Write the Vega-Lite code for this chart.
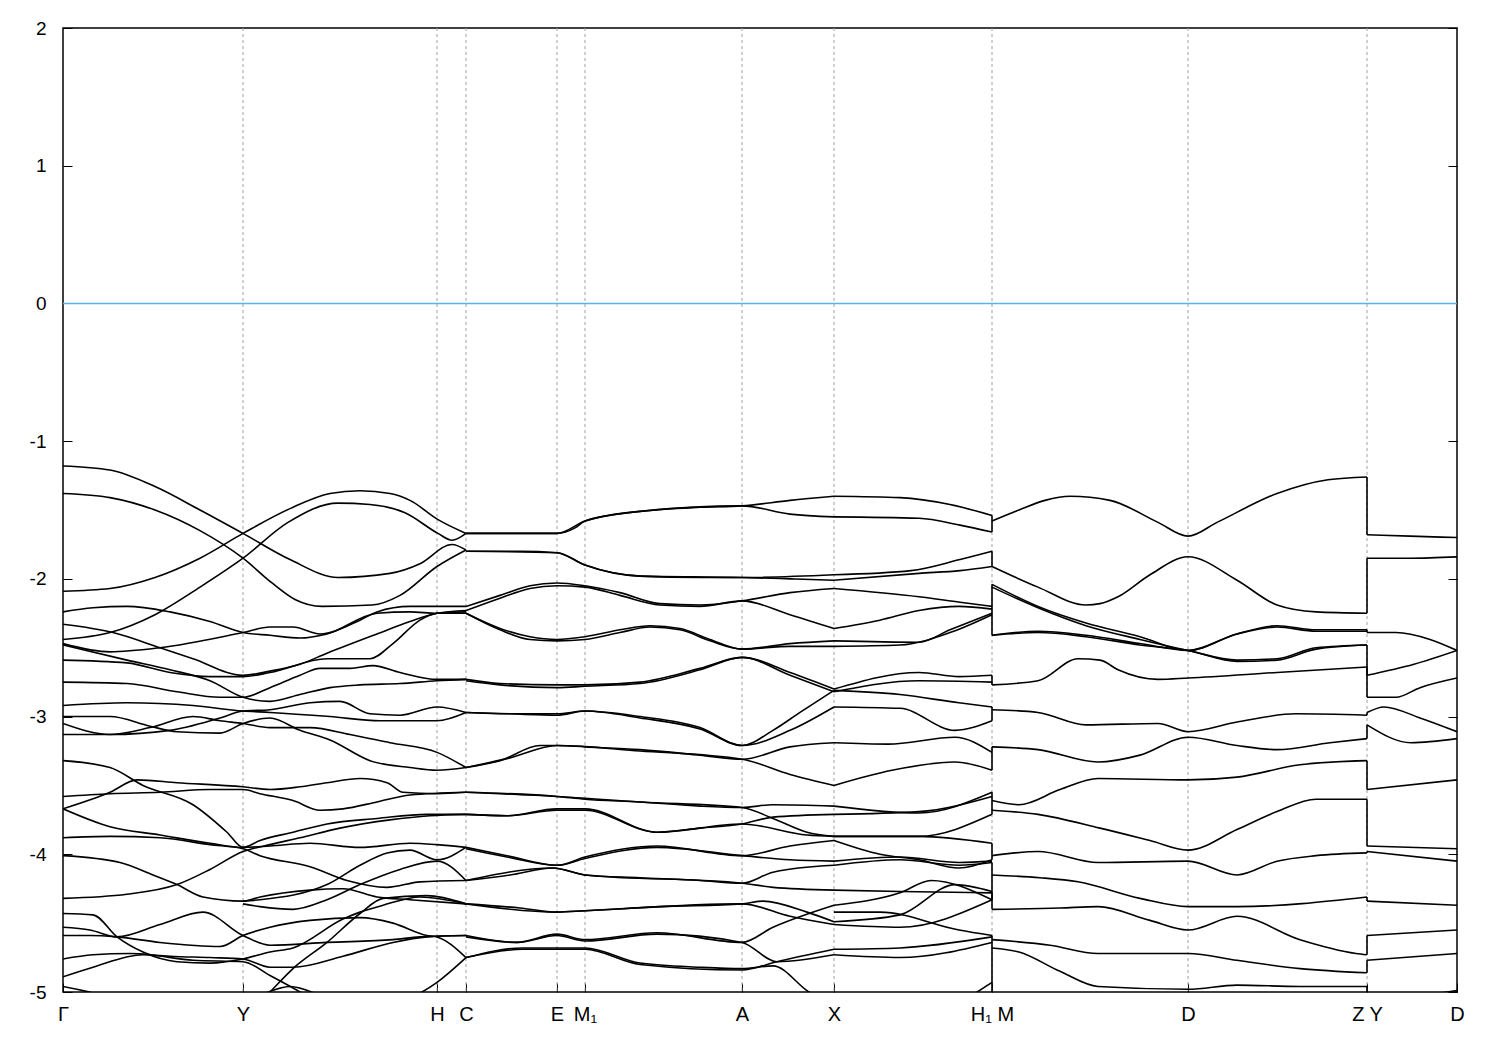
{
"$schema": "https://vega.github.io/schema/vega-lite/v6.json",
"width": 1394, "height": 964,
"autosize": {"type": "none"},
"padding": {"left": 63, "top": 28, "right": 43, "bottom": 58},
"config": {"font": "Liberation Sans", "view": {"stroke": "#000000", "strokeWidth": 1.5}, "axis": {"domain": false}},
"datasets": {
"grid": [{"k":180},{"k":374},{"k":403},{"k":494},{"k":522},{"k":679},{"k":771},{"k":929},{"k":1125},{"k":1304}],
"bands": [
{"id":"V01","k":[929,929],"e":[-1.54,-1.66]},
{"id":"V02","k":[929,929],"e":[-1.80,-1.91]},
{"id":"V03","k":[929,929],"e":[-2.04,-2.41]},
{"id":"V04","k":[929,929],"e":[-2.70,-2.77]},
{"id":"V05","k":[929,929],"e":[-2.93,-3.03]},
{"id":"V06","k":[929,929],"e":[-3.22,-3.39]},
{"id":"V07","k":[929,929],"e":[-3.55,-3.71]},
{"id":"V08","k":[929,929],"e":[-3.92,-4.04]},
{"id":"V09","k":[929,929],"e":[-4.06,-4.33]},
{"id":"V10","k":[929,929],"e":[-4.28,-4.40]},
{"id":"V11","k":[929,929],"e":[-4.59,-5.06]},
{"id":"W01","k":[1304,1304],"e":[-1.26,-1.68]},
{"id":"W02","k":[1304,1304],"e":[-2.25,-1.85]},
{"id":"W03","k":[1304,1304],"e":[-2.37,-2.39]},
{"id":"W04","k":[1304,1304],"e":[-2.48,-2.70]},
{"id":"W05","k":[1304,1304],"e":[-2.64,-2.86]},
{"id":"W06","k":[1304,1304],"e":[-2.99,-2.97]},
{"id":"W07","k":[1304,1304],"e":[-3.16,-3.06]},
{"id":"W08","k":[1304,1304],"e":[-3.32,-3.53]},
{"id":"W09","k":[1304,1304],"e":[-3.60,-3.94]},
{"id":"W10","k":[1304,1304],"e":[-3.99,-3.98]},
{"id":"W11","k":[1304,1304],"e":[-4.31,-4.34]},
{"id":"W12","k":[1304,1304],"e":[-4.73,-4.59]},
{"id":"W13","k":[1304,1304],"e":[-4.86,-4.77]},
{"id":"W14","k":[1304,1304],"e":[-4.96,-5.05]},
{"id":"A01","k":[0,47,92,137,180,227,275,327,357,389,403],"e":[-1.18,-1.21,-1.33,-1.50,-1.67,-1.86,-1.99,-1.96,-1.89,-1.75,-1.79]},
{"id":"A02","k":[0,47,92,137,180,209,232,259,309,337,374,403],"e":[-1.38,-1.41,-1.50,-1.65,-1.85,-2.03,-2.15,-2.20,-2.19,-2.12,-1.91,-1.79]},
{"id":"A03","k":[0,47,92,137,180,227,267,297,327,347,375,403],"e":[-2.09,-2.07,-1.99,-1.85,-1.67,-1.49,-1.38,-1.36,-1.38,-1.43,-1.57,-1.67]},
{"id":"A04","k":[0,47,92,137,180,225,275,307,342,375,389,403],"e":[-2.44,-2.39,-2.26,-2.06,-1.85,-1.59,-1.45,-1.46,-1.52,-1.67,-1.72,-1.67]},
{"id":"A05","k":[0,30,64,107,147,180,207,237,264,314,347,374,403],"e":[-2.24,-2.21,-2.20,-2.24,-2.31,-2.39,-2.41,-2.43,-2.40,-2.25,-2.24,-2.25,-2.25]},
{"id":"A06","k":[0,47,97,180,207,230,257,297,314,347,374,403],"e":[-2.47,-2.53,-2.50,-2.39,-2.35,-2.35,-2.40,-2.30,-2.24,-2.20,-2.20,-2.20]},
{"id":"A07","k":[0,50,97,130,180,207,237,264,314,347,374,403],"e":[-2.33,-2.39,-2.50,-2.58,-2.70,-2.67,-2.62,-2.54,-2.40,-2.31,-2.25,-2.23]},
{"id":"A08","k":[0,64,107,147,180,207,264,307,330,357,374,403],"e":[-2.59,-2.61,-2.68,-2.71,-2.71,-2.68,-2.58,-2.58,-2.47,-2.30,-2.25,-2.24]},
{"id":"A09","k":[0,64,107,147,180,207,237,267,297,337,374,403],"e":[-2.48,-2.59,-2.66,-2.74,-2.86,-2.89,-2.84,-2.79,-2.77,-2.76,-2.74,-2.73]},
{"id":"A10","k":[0,64,114,157,180,207,237,257,287,310,337,374,403],"e":[-2.75,-2.76,-2.82,-2.86,-2.86,-2.79,-2.70,-2.65,-2.65,-2.63,-2.68,-2.73,-2.73]},
{"id":"A11","k":[0,64,130,180,207,267,317,374,403],"e":[-2.92,-2.90,-2.92,-2.96,-2.97,-3.00,-3.03,-3.03,-2.97]},
{"id":"A12","k":[0,47,87,114,157,180,207,237,267,307,347,374,403],"e":[-3.00,-3.00,-3.07,-3.11,-3.12,-3.05,-3.01,-3.10,-3.17,-3.32,-3.37,-3.39,-3.37]},
{"id":"A13","k":[0,47,107,157,180,207,247,277,307,337,374,403],"e":[-3.05,-3.13,-3.10,-3.01,-2.96,-2.95,-2.90,-2.89,-2.98,-2.99,-2.93,-2.97]},
{"id":"A14","k":[0,47,87,130,157,180,207,247,287,327,374,403],"e":[-3.13,-3.13,-3.08,-3.00,-3.03,-3.05,-3.08,-3.08,-3.13,-3.19,-3.26,-3.37]},
{"id":"A15","k":[0,47,80,130,164,180,207,247,297,347,374,403],"e":[-3.32,-3.37,-3.50,-3.64,-3.84,-3.95,-3.94,-3.92,-3.95,-3.92,-3.93,-3.95]},
{"id":"A16","k":[0,47,74,114,180,207,237,264,297,324,340,374,403],"e":[-3.67,-3.55,-3.46,-3.48,-3.51,-3.53,-3.51,-3.48,-3.45,-3.48,-3.55,-3.56,-3.55]},
{"id":"A17","k":[0,47,97,147,180,197,230,257,280,314,347,403],"e":[-3.58,-3.56,-3.55,-3.53,-3.53,-3.56,-3.61,-3.68,-3.67,-3.62,-3.57,-3.55]},
{"id":"A18","k":[0,47,97,147,180,197,230,264,314,364,403],"e":[-3.67,-3.80,-3.86,-3.92,-3.95,-3.90,-3.84,-3.78,-3.74,-3.71,-3.71]},
{"id":"A19","k":[0,47,97,147,180,197,247,284,324,357,403],"e":[-3.88,-3.87,-3.88,-3.93,-3.96,-4.01,-4.09,-4.19,-4.24,-4.20,-4.19]},
{"id":"A20","k":[0,57,90,114,140,180,197,247,280,314,347,403],"e":[-4.01,-4.06,-4.15,-4.22,-4.31,-4.34,-4.31,-4.26,-4.25,-4.31,-4.33,-4.36]},
{"id":"A21","k":[0,64,114,147,180,207,237,277,327,367,403],"e":[-4.32,-4.29,-4.22,-4.11,-3.98,-3.93,-3.88,-3.81,-3.75,-3.72,-3.71]},
{"id":"A22","k":[0,30,54,80,114,147,180,207,230,280,297,320,357,403],"e":[-4.43,-4.44,-4.60,-4.71,-4.78,-4.79,-4.76,-4.71,-4.68,-4.47,-4.42,-4.37,-4.31,-4.36]},
{"id":"A23","k":[0,27,54,97,140,180,207,264,330,357,403],"e":[-4.53,-4.55,-4.60,-4.51,-4.42,-4.59,-4.66,-4.64,-4.62,-4.60,-4.59]},
{"id":"A24","k":[0,27,54,97,157,180,207,247,297,330,364,374,403],"e":[-4.59,-4.59,-4.60,-4.64,-4.67,-4.59,-4.53,-4.48,-4.46,-4.50,-4.59,-4.60,-4.75]},
{"id":"A25","k":[0,30,67,107,147,180,207,230,280,330,364,403],"e":[-4.76,-4.73,-4.72,-4.74,-4.75,-4.76,-4.82,-4.82,-4.74,-4.64,-4.60,-4.59]},
{"id":"A26","k":[0,30,80,130,180,207,237,257],"e":[-4.89,-4.82,-4.73,-4.77,-4.78,-4.88,-5.00,-5.09]},
{"id":"A27","k":[0,37,67],"e":[-4.96,-5.02,-5.09]},
{"id":"A28","k":[180,197,264,297,324,347,374,403],"e":[-4.34,-4.33,-4.22,-4.08,-3.99,-3.97,-4.04,-3.95]},
{"id":"A29","k":[180,197,230,264,297,337,374,403],"e":[-4.36,-4.38,-4.40,-4.33,-4.22,-4.11,-4.05,-4.19]},
{"id":"A30","k":[199,207,230,264,297,320,364,403],"e":[-5.06,-5.00,-4.83,-4.64,-4.43,-4.32,-4.30,-4.36]},
{"id":"A31","k":[347,374,403],"e":[-5.05,-4.93,-4.75]},
{"id":"A32","k":[202,227,252],"e":[-5.01,-4.96,-5.01]},
{"id":"B01","k":[403,447,494,512,522,577,637,679,727,771],"e":[-1.67,-1.67,-1.67,-1.63,-1.58,-1.51,-1.48,-1.47,-1.43,-1.40]},
{"id":"B02","k":[403,494,522,577,679,727,771],"e":[-1.67,-1.67,-1.58,-1.51,-1.47,-1.53,-1.55]},
{"id":"B03","k":[403,457,494,522,577,637,679,771],"e":[-1.80,-1.80,-1.81,-1.90,-1.98,-1.99,-1.99,-1.97]},
{"id":"B04","k":[403,494,522,577,679,727,771],"e":[-1.80,-1.81,-1.90,-1.98,-1.99,-2.00,-2.01]},
{"id":"B05","k":[403,437,467,494,522,557,597,637,679,727,771],"e":[-2.20,-2.12,-2.05,-2.03,-2.05,-2.10,-2.18,-2.19,-2.16,-2.10,-2.07]},
{"id":"B06","k":[403,437,467,494,522,557,597,637,679,727,771],"e":[-2.23,-2.14,-2.07,-2.05,-2.06,-2.12,-2.19,-2.20,-2.16,-2.26,-2.36]},
{"id":"B07","k":[403,437,467,494,522,557,587,617,647,679,727,771],"e":[-2.25,-2.36,-2.42,-2.44,-2.42,-2.37,-2.34,-2.36,-2.44,-2.51,-2.47,-2.45]},
{"id":"B08","k":[403,437,467,494,522,557,587,617,647,679,727,771],"e":[-2.25,-2.37,-2.44,-2.45,-2.44,-2.39,-2.35,-2.37,-2.45,-2.51,-2.49,-2.49]},
{"id":"B09","k":[403,437,494,522,577,637,679,727,771],"e":[-2.73,-2.76,-2.77,-2.77,-2.75,-2.65,-2.57,-2.68,-2.80]},
{"id":"B10","k":[403,437,494,522,577,637,679,727,771],"e":[-2.74,-2.77,-2.79,-2.78,-2.76,-2.66,-2.57,-2.70,-2.82]},
{"id":"B11","k":[403,447,494,522,577,637,679,710,737,771],"e":[-2.97,-2.98,-2.99,-2.96,-3.00,-3.08,-3.21,-3.10,-2.97,-2.81]},
{"id":"B12","k":[403,447,494,522,577,637,679,727,771],"e":[-2.97,-2.98,-2.98,-2.96,-3.01,-3.09,-3.21,-3.10,-2.93]},
{"id":"B13","k":[403,437,477,494,522,577,637,679,727,771],"e":[-3.37,-3.32,-3.21,-3.21,-3.22,-3.24,-3.28,-3.31,-3.22,-3.19]},
{"id":"B14","k":[403,447,494,577,679,727,771],"e":[-3.37,-3.30,-3.21,-3.25,-3.31,-3.42,-3.50]},
{"id":"B15","k":[403,494,522,577,637,679,710,771],"e":[-3.55,-3.58,-3.60,-3.62,-3.65,-3.66,-3.64,-3.65]},
{"id":"B16","k":[403,494,577,679,710,744,771],"e":[-3.55,-3.58,-3.62,-3.66,-3.74,-3.84,-3.87]},
{"id":"B17","k":[403,444,494,522,594,637,679,710,771],"e":[-3.71,-3.72,-3.67,-3.67,-3.84,-3.81,-3.78,-3.73,-3.71]},
{"id":"B18","k":[403,444,494,522,594,679,744,771],"e":[-3.71,-3.72,-3.68,-3.68,-3.84,-3.78,-3.86,-3.87]},
{"id":"B19","k":[403,444,494,522,594,679,727,771],"e":[-3.95,-4.01,-4.08,-4.02,-3.94,-4.01,-3.94,-3.90]},
{"id":"B20","k":[403,444,494,522,594,679,727,771],"e":[-3.96,-4.02,-4.08,-4.03,-3.95,-4.01,-4.04,-4.05]},
{"id":"B21","k":[403,447,490,522,577,637,679,710,771],"e":[-4.19,-4.15,-4.10,-4.15,-4.17,-4.19,-4.21,-4.13,-4.08]},
{"id":"B22","k":[403,490,522,679,710,771],"e":[-4.19,-4.10,-4.15,-4.21,-4.24,-4.26]},
{"id":"B23","k":[403,457,494,522,597,679,700,744,771],"e":[-4.36,-4.39,-4.42,-4.41,-4.38,-4.36,-4.34,-4.42,-4.49]},
{"id":"B24","k":[403,494,522,679,727,771],"e":[-4.36,-4.42,-4.41,-4.36,-4.45,-4.51]},
{"id":"B25","k":[403,454,494,522,594,679,710,771],"e":[-4.60,-4.64,-4.58,-4.62,-4.57,-4.64,-4.53,-4.37]},
{"id":"B26","k":[403,454,494,522,594,679,714,771],"e":[-4.59,-4.64,-4.59,-4.63,-4.58,-4.64,-4.78,-4.73]},
{"id":"B27","k":[403,460,522,577,637,679,710,744,752],"e":[-4.75,-4.68,-4.68,-4.79,-4.82,-4.83,-4.81,-4.99,-5.03]},
{"id":"B28","k":[403,460,522,577,679,714,771],"e":[-4.75,-4.69,-4.69,-4.80,-4.84,-4.78,-4.69]},
{"id":"C01","k":[771,837,887,929],"e":[-1.40,-1.41,-1.46,-1.54]},
{"id":"C02","k":[771,856,897,929],"e":[-1.55,-1.56,-1.61,-1.66]},
{"id":"C03","k":[771,848,897,929],"e":[-1.97,-1.94,-1.86,-1.80]},
{"id":"C04","k":[771,856,897,929],"e":[-2.01,-1.96,-1.94,-1.91]},
{"id":"C05","k":[771,856,897,929],"e":[-2.07,-2.13,-2.17,-2.20]},
{"id":"C06","k":[771,817,856,896,929],"e":[-2.36,-2.30,-2.23,-2.20,-2.22]},
{"id":"C07","k":[771,856,887,929],"e":[-2.45,-2.46,-2.37,-2.25]},
{"id":"C08","k":[771,837,887,929],"e":[-2.49,-2.48,-2.39,-2.26]},
{"id":"C09","k":[771,856,896,929],"e":[-2.80,-2.68,-2.71,-2.70]},
{"id":"C10","k":[771,856,929],"e":[-2.82,-2.74,-2.75]},
{"id":"C11","k":[771,837,896,929],"e":[-2.81,-2.84,-2.90,-2.93]},
{"id":"C12","k":[771,837,892,929],"e":[-2.93,-2.94,-3.10,-3.03]},
{"id":"C13","k":[771,825,892,929],"e":[-3.19,-3.20,-3.15,-3.26]},
{"id":"C14","k":[771,829,892,929],"e":[-3.50,-3.39,-3.33,-3.39]},
{"id":"C15","k":[771,856,929],"e":[-3.65,-3.70,-3.55]},
{"id":"C16","k":[771,856,929],"e":[-3.71,-3.69,-3.58]},
{"id":"C17","k":[771,856,929],"e":[-3.87,-3.87,-3.92]},
{"id":"C18","k":[771,856,929],"e":[-3.87,-3.87,-3.71]},
{"id":"C19","k":[771,817,856,896,929],"e":[-3.90,-4.00,-4.04,-4.10,-4.04]},
{"id":"C20","k":[771,837,896,929],"e":[-4.05,-4.02,-4.06,-4.05]},
{"id":"C21","k":[771,837,896,929],"e":[-4.08,-4.04,-4.08,-4.06]},
{"id":"C22","k":[771,837,929],"e":[-4.26,-4.27,-4.28]},
{"id":"C23","k":[771,837,868,929],"e":[-4.37,-4.28,-4.19,-4.33]},
{"id":"C24","k":[771,817,896,929],"e":[-4.42,-4.42,-4.55,-4.59]},
{"id":"C25","k":[771,837,892,929],"e":[-4.49,-4.44,-4.22,-4.27]},
{"id":"C26","k":[771,837,929],"e":[-4.51,-4.53,-4.33]},
{"id":"C27","k":[771,837,929],"e":[-4.69,-4.68,-4.60]},
{"id":"C28","k":[771,837,929],"e":[-4.73,-4.75,-4.64]},
{"id":"C29","k":[912,929],"e":[-5.01,-4.93]},
{"id":"D01","k":[929,956,982,1007,1047,1095,1125,1154,1214,1265,1304],"e":[-1.58,-1.50,-1.43,-1.40,-1.43,-1.59,-1.69,-1.59,-1.38,-1.28,-1.26]},
{"id":"D02","k":[929,975,1023,1037,1055,1087,1125,1174,1214,1253,1304],"e":[-1.91,-2.06,-2.19,-2.18,-2.13,-1.97,-1.84,-2.01,-2.19,-2.24,-2.25]},
{"id":"D03","k":[929,975,1023,1077,1125,1174,1214,1253,1304],"e":[-2.04,-2.20,-2.32,-2.42,-2.52,-2.40,-2.34,-2.37,-2.37]},
{"id":"D04","k":[929,975,1023,1077,1125,1174,1214,1253,1304],"e":[-2.06,-2.21,-2.34,-2.44,-2.52,-2.59,-2.58,-2.50,-2.48]},
{"id":"D05","k":[929,975,1023,1077,1125,1174,1214,1253,1304],"e":[-2.41,-2.38,-2.41,-2.47,-2.52,-2.40,-2.35,-2.38,-2.38]},
{"id":"D06","k":[929,975,1023,1077,1125,1174,1214,1253,1304],"e":[-2.41,-2.39,-2.42,-2.48,-2.52,-2.60,-2.59,-2.51,-2.48]},
{"id":"D07","k":[929,975,1015,1037,1055,1095,1125,1214,1304],"e":[-2.77,-2.74,-2.58,-2.59,-2.66,-2.73,-2.72,-2.68,-2.64]},
{"id":"D08","k":[929,975,1023,1095,1125,1174,1233,1304],"e":[-2.95,-2.97,-3.06,-3.05,-3.11,-3.04,-2.98,-2.99]},
{"id":"D09","k":[929,975,1035,1077,1125,1174,1214,1267,1304],"e":[-3.22,-3.24,-3.33,-3.28,-3.15,-3.21,-3.24,-3.19,-3.16]},
{"id":"D10","k":[929,956,997,1035,1125,1174,1237,1304],"e":[-3.61,-3.64,-3.53,-3.45,-3.46,-3.44,-3.35,-3.32]},
{"id":"D11","k":[929,975,1037,1087,1125,1174,1214,1253,1304],"e":[-3.68,-3.71,-3.81,-3.90,-3.97,-3.82,-3.69,-3.60,-3.60]},
{"id":"D12","k":[929,975,1035,1125,1174,1214,1253,1304],"e":[-4.01,-3.98,-4.06,-4.05,-4.15,-4.05,-4.01,-3.99]},
{"id":"D13","k":[929,977,1015,1077,1125,1174,1304],"e":[-4.15,-4.17,-4.20,-4.32,-4.38,-4.38,-4.31]},
{"id":"D14","k":[929,997,1035,1087,1125,1174,1237,1293,1304],"e":[-4.40,-4.39,-4.38,-4.48,-4.55,-4.45,-4.62,-4.72,-4.73]},
{"id":"D15","k":[929,987,1035,1125,1174,1237,1304],"e":[-4.62,-4.66,-4.72,-4.72,-4.77,-4.83,-4.86]},
{"id":"D16","k":[929,956,997,1035,1125,1174,1237,1304],"e":[-4.68,-4.71,-4.85,-4.96,-4.98,-4.95,-4.96,-4.96]},
{"id":"E01","k":[1304,1347,1394],"e":[-1.68,-1.69,-1.70]},
{"id":"E02","k":[1304,1347,1394],"e":[-1.85,-1.85,-1.84]},
{"id":"E03","k":[1304,1333,1367,1394],"e":[-2.39,-2.39,-2.44,-2.52]},
{"id":"E04","k":[1304,1351,1394],"e":[-2.70,-2.62,-2.52]},
{"id":"E05","k":[1304,1333,1357,1394],"e":[-2.86,-2.86,-2.79,-2.72]},
{"id":"E06","k":[1304,1321,1357,1394],"e":[-2.97,-2.93,-3.01,-3.11]},
{"id":"E07","k":[1304,1348,1394],"e":[-3.06,-3.19,-3.16]},
{"id":"E08","k":[1304,1394],"e":[-3.53,-3.46]},
{"id":"E09","k":[1304,1394],"e":[-3.94,-3.96]},
{"id":"E10","k":[1304,1394],"e":[-3.98,-4.05]},
{"id":"E11","k":[1304,1394],"e":[-4.34,-4.37]},
{"id":"E12","k":[1304,1394],"e":[-4.59,-4.55]},
{"id":"E13","k":[1304,1394],"e":[-4.77,-4.72]},
{"id":"E14","k":[1304,1384,1394],"e":[-5.05,-5.00,-4.99]}
]
},
"layer": [
{"data": {"name": "grid"},
 "mark": {"type": "rule", "color": "#a0a0a0", "strokeWidth": 1, "strokeDash": [3, 3]},
 "encoding": {"x": {"field": "k", "type": "quantitative"}}},
{"data": {"values": [{"e": 0}]},
 "mark": {"type": "rule", "color": "#56b4e9", "strokeWidth": 1.5},
 "encoding": {"y": {"field": "e", "type": "quantitative", "scale": {"domain": [-5, 2], "nice": false, "zero": false},
   "axis": {"orient": "right", "labels": false, "ticks": true, "tickSize": 9, "offset": -9, "tickColor": "#000000", "values": [-5,-4,-3,-2,-1,0,1,2], "grid": false, "title": null}}}},
{"data": {"name": "bands"},
 "transform": [{"flatten": ["k", "e"]}],
 "mark": {"type": "line", "color": "#000000", "strokeWidth": 1.6, "clip": true, "interpolate": "monotone"},
 "encoding": {
  "x": {"field": "k", "type": "quantitative", "scale": {"domain": [0, 1394], "nice": false, "zero": false},
   "axis": {"orient": "bottom", "values": [0,180,374,403,494,522,679,771,929,1125,1304,1394],
    "labelExpr": "datum.value==0?'Γ':datum.value==180?'Y':datum.value==374?'H':datum.value==403?'C':datum.value==494?'E':datum.value==522?'M₁':datum.value==679?'A':datum.value==771?'X':datum.value==929?'H₁ M':datum.value==1125?'D':datum.value==1304?'Z Y':'D'",
    "labelOverlap": false, "labelFlush": false, "labelBound": false, "tickSize": 9, "offset": -9, "tickColor": "#000000",
    "labelFontSize": 20, "labelColor": "#000000", "labelPadding": 12, "grid": false, "title": null}},
  "y": {"field": "e", "type": "quantitative", "scale": {"domain": [-5, 2], "nice": false, "zero": false},
   "axis": {"orient": "left", "values": [-5,-4,-3,-2,-1,0,1,2], "labelExpr": "''+datum.value", "tickSize": 9, "offset": -9, "tickColor": "#000000",
    "labelFontSize": 19, "labelColor": "#000000", "labelPadding": 17, "grid": false, "title": null}},
  "detail": {"field": "id"},
  "order": {"value": null}
 }}
],
"resolve": {"axis": {"y": "independent"}}
}
